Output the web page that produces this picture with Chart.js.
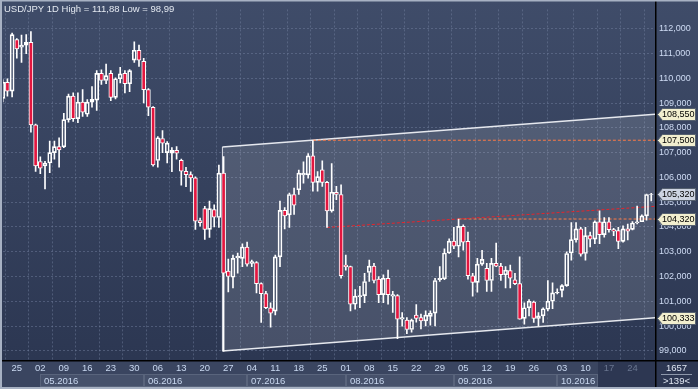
<!DOCTYPE html>
<html>
<head>
<meta charset="utf-8">
<title>USD/JPY 1D</title>
<script src="https://cdn.jsdelivr.net/npm/chart.js@4.4.1/dist/chart.umd.min.js"></script>
<style>
  html, body { margin: 0; padding: 0; background: #3a4560; }
  #wrap { width: 698px; height: 389px; }
</style>
</head>
<body>
<div id="wrap"><canvas id="fxChart" width="698" height="389"></canvas></div>
<script>
// daily candles, index 0 = 20.04.2016 ... 138 = 28.10.2016
const opens = [
  109.19, 109.84, 109.48, 111.56, 111.26, 111.34, 111.45, 108.12, 106.64, 106.46,
  106.58, 107.00, 107.24, 107.23, 108.33, 109.28, 108.37, 109.04, 108.55, 109.04,
  109.12, 110.20, 109.91, 110.20, 109.23, 109.98, 110.20, 109.78, 110.73, 111.13,
  110.68, 109.54, 108.83, 106.68, 107.57, 107.00, 106.98, 107.09, 106.69, 106.24,
  106.11, 105.98, 104.26, 104.74, 103.90, 104.70, 104.38, 106.17, 102.22, 101.97,
  102.75, 102.73, 103.19, 102.53, 102.56, 101.71, 101.31, 100.74, 100.60, 102.79,
  104.67, 104.49, 105.31, 105.50, 106.10, 106.10, 106.87, 105.80, 106.31, 105.80,
  104.65, 105.40, 105.31, 102.46, 102.40, 100.88, 101.18, 101.23, 102.16, 102.42,
  101.90, 101.27, 101.93, 101.21, 101.23, 100.28, 100.24, 99.86, 100.44, 100.34,
  100.21, 100.39, 100.52, 101.87, 101.91, 102.95, 103.43, 103.22, 104.02, 103.42,
  102.03, 101.76, 102.50, 102.33, 101.84, 102.53, 102.42, 102.07, 102.24, 101.87,
  101.71, 100.31, 100.74, 100.97, 100.31, 100.41, 100.68, 101.00, 101.34, 101.44,
  101.63, 102.95, 103.49, 103.92, 102.93, 103.65, 103.51, 104.21, 103.69, 104.21,
  103.89, 103.85, 103.42, 103.92, 103.90, 104.16, 104.21, 104.45, 105.31
];
const highs = [
  109.95, 109.98, 111.82, 111.60, 111.74, 111.76, 111.88, 108.15, 106.83, 106.65,
  107.47, 107.47, 107.60, 108.59, 109.36, 109.41, 109.41, 109.54, 109.14, 109.67,
  110.31, 110.34, 110.57, 110.31, 110.02, 110.44, 110.31, 110.35, 111.47, 111.34,
  110.81, 109.58, 108.86, 107.65, 107.89, 107.45, 107.20, 107.24, 106.74, 106.41,
  106.22, 106.02, 104.36, 104.83, 105.04, 104.89, 106.50, 106.84, 102.70, 102.86,
  102.95, 103.32, 103.39, 102.66, 102.60, 101.74, 101.40, 100.94, 102.86, 105.04,
  104.78, 105.37, 105.57, 106.30, 106.63, 106.96, 107.49, 106.23, 106.67, 105.84,
  106.56, 105.64, 105.70, 102.86, 102.42, 101.47, 101.60, 102.13, 102.66, 102.53,
  102.00, 102.07, 102.26, 101.40, 101.27, 100.54, 100.34, 100.28, 100.87, 100.48,
  100.61, 100.61, 101.93, 102.40, 103.12, 103.52, 103.98, 104.32, 104.09, 103.79,
  102.13, 102.73, 103.06, 102.53, 102.73, 103.35, 102.53, 102.40, 102.46, 102.13,
  102.79, 100.94, 101.07, 101.01, 100.54, 100.74, 101.84, 101.74, 101.50, 101.67,
  103.00, 104.18, 104.18, 103.98, 103.98, 103.79, 104.25, 104.65, 104.38, 104.38,
  103.94, 103.98, 104.05, 104.12, 104.22, 104.84, 104.49, 105.33, 105.36
];
const lows = [
  109.05, 109.28, 109.25, 110.81, 110.64, 110.99, 107.83, 106.24, 106.15, 105.53,
  106.19, 106.74, 106.41, 107.20, 108.23, 108.26, 108.21, 108.46, 108.46, 108.83,
  108.70, 109.75, 109.78, 109.10, 109.17, 109.81, 109.41, 109.46, 110.64, 110.48,
  109.01, 108.49, 106.45, 106.41, 107.00, 106.58, 106.23, 106.74, 105.69, 105.63,
  105.43, 103.90, 104.03, 103.50, 103.58, 104.00, 103.98, 98.99, 101.38, 101.54,
  102.13, 102.40, 102.42, 102.40, 101.34, 100.15, 100.70, 99.95, 100.45, 102.40,
  103.92, 103.98, 104.51, 105.31, 105.77, 105.97, 105.44, 105.44, 105.64, 103.98,
  104.60, 105.10, 101.93, 102.26, 100.61, 100.68, 100.74, 100.94, 101.80, 101.74,
  100.94, 100.94, 100.88, 100.55, 99.49, 100.00, 99.69, 99.75, 100.16, 99.88,
  100.01, 100.04, 100.01, 101.80, 101.87, 102.93, 103.12, 102.79, 103.06, 101.89,
  101.21, 101.37, 102.45, 101.40, 101.40, 102.40, 101.84, 101.54, 101.54, 101.67,
  100.28, 100.08, 100.41, 100.15, 100.01, 100.15, 100.61, 100.70, 101.30, 101.18,
  101.60, 102.66, 103.39, 102.82, 102.66, 103.19, 103.32, 103.32, 103.59, 103.79,
  103.65, 103.12, 103.39, 103.48, 103.88, 104.12, 104.21, 104.27, 105.05
];
const closes = [
  109.84, 109.48, 111.76, 111.19, 111.34, 111.45, 108.12, 106.46, 106.37, 106.58,
  107.00, 107.24, 107.11, 108.33, 109.28, 108.37, 109.04, 108.63, 109.04, 109.15,
  110.20, 109.91, 110.11, 109.23, 109.98, 110.18, 109.78, 110.31, 111.13, 110.73,
  109.54, 108.83, 106.50, 107.60, 107.38, 107.38, 107.09, 106.98, 106.25, 106.11,
  105.98, 104.23, 104.17, 103.90, 104.74, 104.39, 106.17, 102.13, 102.00, 102.73,
  102.82, 103.19, 102.50, 102.60, 101.71, 101.31, 100.74, 100.52, 102.79, 104.67,
  104.45, 105.31, 104.88, 106.17, 106.17, 106.87, 105.80, 106.03, 105.80, 104.65,
  105.40, 105.31, 102.03, 102.40, 100.88, 101.21, 101.23, 101.80, 102.42, 101.84,
  101.27, 101.93, 101.27, 101.27, 100.28, 100.34, 99.86, 100.24, 100.31, 100.21,
  100.44, 100.52, 101.84, 101.93, 102.95, 103.43, 103.22, 104.02, 103.39, 102.03,
  101.76, 102.50, 102.69, 101.84, 102.53, 102.42, 102.07, 102.26, 101.93, 101.71,
  100.28, 100.74, 101.00, 100.31, 100.41, 100.70, 101.00, 101.34, 101.36, 101.63,
  102.93, 103.49, 103.92, 102.90, 103.65, 103.51, 104.21, 103.69, 104.21, 103.89,
  103.83, 103.42, 103.92, 103.83, 104.16, 104.21, 104.45, 105.31, 105.32
];

// x axis: monday labels and month strip
const xTickIdx = [3, 8, 13, 18, 23, 28, 33, 38, 43, 48, 53, 58, 63, 68, 73, 78, 83, 88, 93, 98, 103, 108, 113, 119, 124, 129, 134];
const xTickText = ['25', '02', '09', '16', '23', '30', '06', '13', '20', '27', '04', '11', '18', '25', '01', '08', '15', '22', '29', '05', '12', '19', '26', '03', '10', '17', '24'];
const monthStart = [8, 30, 52, 73, 96, 118];
const monthEnd = [30, 52, 73, 96, 118, 126.7];
const monthText = ['05.2016', '06.2016', '07.2016', '08.2016', '09.2016', '10.2016'];

// y axis
const yTickVals = [99, 100, 101, 102, 103, 104, 105, 106, 107, 108, 109, 110, 111, 112];

// drawn objects: channel, levels, trend line
const channelX = [46.75, 138.8];
const channelTop = [107.23, 108.55];
const channelBottom = [98.99, 100.333];
const levelFrom = [66, 97];
const levelVals = [107.5, 104.32];
const trendX = [69, 138.8];
const trendY = [103.98, 104.83];

// price tags on the right axis
const tagVals = [108.55, 107.5, 105.32, 104.32, 100.333];
const tagCurrent = [false, false, true, false, false];

const xMin = 0.06, xMax = 138.8;
const fontFamily = "'Liberation Sans', Arial, sans-serif";
const red = '#e3163f';
const gridColor = 'rgba(120, 134, 165, 0.45)';

const bodies = opens.map((o, i) => ({ x: i, y: [o, closes[i]] }));
const upperWicks = opens.map((o, i) => ({ x: i, y: [Math.max(o, closes[i]), highs[i]] }));
const lowerWicks = opens.map((o, i) => ({ x: i, y: [lows[i], Math.min(o, closes[i])] }));
const bodyFill = opens.map((o, i) => (closes[i] < o ? red : 'rgba(0,0,0,0)'));

function fmt(v, d) {
  return v.toFixed(d).replace('.', ',');
}

const backdrop = {
  id: 'backdrop',
  beforeDraw(chart) {
    const { ctx, chartArea: a, scales: { x } } = chart;
    const W = chart.width, H = chart.height;
    ctx.save();
    ctx.fillStyle = '#3a4560';
    ctx.fillRect(0, 0, W, H);
    const g = ctx.createLinearGradient(0, 0, 0, a.bottom);
    g.addColorStop(0, '#3f4c69');
    g.addColorStop(1, '#2c3752');
    ctx.fillStyle = g;
    ctx.fillRect(0, 0, W, a.bottom);

    // month strip
    const top = a.bottom + 14, bot = H - 2;
    monthStart.forEach((m, k) => {
      const x0 = Math.round(x.getPixelForValue(m));
      const x1 = Math.round(x.getPixelForValue(monthEnd[k]));
      ctx.fillStyle = '#46516b';
      ctx.fillRect(x0, top, x1 - x0, bot - top);
      ctx.strokeStyle = '#59647c';
      ctx.lineWidth = 1;
      ctx.strokeRect(x0 + 0.5, top + 0.5, x1 - x0 - 1, bot - top - 1);
      ctx.fillStyle = '#c9d8f0';
      ctx.font = '9.5px ' + fontFamily;
      ctx.textBaseline = 'middle';
      ctx.textAlign = 'left';
      ctx.fillText(monthText[k], x0 + 4, (top + bot) / 2 + 1);
    });
    // dark end of the strip
    const xe = Math.round(x.getPixelForValue(monthEnd[monthEnd.length - 1]));
    ctx.fillStyle = '#2d3752';
    ctx.fillRect(xe, a.bottom, a.right - xe, H - a.bottom - 2);

    // bottom right box
    ctx.fillStyle = '#2d3752';
    ctx.fillRect(a.right, a.bottom, W - a.right, H - a.bottom);
    ctx.restore();
  },
  afterDraw(chart) {
    const { ctx, chartArea: a, scales: { y } } = chart;
    const W = chart.width, H = chart.height;
    ctx.save();
    // frame lines
    ctx.fillStyle = '#000000';
    ctx.fillRect(a.right, 0, 1.5, H);
    ctx.fillRect(0, a.bottom, W, 1.5);
    ctx.fillStyle = '#a7b1c3';
    ctx.fillRect(0, 0, W, 1.5);
    ctx.fillRect(0, 0, 2, H);
    ctx.fillRect(0, H - 2, W, 2);

    // price tags
    ctx.font = '9px ' + fontFamily;
    ctx.textBaseline = 'middle';
    ctx.textAlign = 'left';
    tagVals.forEach((v, k) => {
      const py = Math.round(y.getPixelForValue(v)) + 0.5;
      const xl = a.right + 2.5, xr = W - 2.5;
      ctx.beginPath();
      ctx.moveTo(xl - 0, py);
      ctx.lineTo(xl + 5, py - 6);
      ctx.lineTo(xr, py - 6);
      ctx.lineTo(xr, py + 6);
      ctx.lineTo(xl + 5, py + 6);
      ctx.closePath();
      ctx.fillStyle = tagCurrent[k] ? '#cdd4e2' : '#f2efcf';
      ctx.fill();
      ctx.strokeStyle = '#55606f';
      ctx.lineWidth = 1;
      ctx.stroke();
      ctx.fillStyle = '#000000';
      ctx.fillText(fmt(v, 3), a.right + 7, py + 0.5);
    });

    // bar counter
    ctx.textAlign = 'center';
    ctx.fillStyle = '#dfe6f2';
    ctx.font = '9.5px ' + fontFamily;
    const cx = (a.right + W) / 2;
    ctx.fillText('1657', cx, a.bottom + 8);
    ctx.fillStyle = '#8e98ab';
    ctx.fillRect(a.right + 6, a.bottom + 14, W - a.right - 12, 1);
    ctx.fillStyle = '#dfe6f2';
    ctx.fillText('>139<', cx, a.bottom + 21);

    // title
    ctx.textAlign = 'left';
    ctx.textBaseline = 'alphabetic';
    ctx.font = '9.5px ' + fontFamily;
    ctx.fillStyle = '#e3e8f0';
    ctx.fillText('USD/JPY 1D High = 111,88 Low = 98,99', 4, 12);
    ctx.restore();
  }
};

new Chart(document.getElementById('fxChart'), {
  data: {
    datasets: [
      {
        type: 'bar', label: 'body', data: bodies, grouped: false,
        backgroundColor: bodyFill, borderColor: '#ffffff', borderWidth: 1,
        borderSkipped: false, barThickness: 4, order: 1, clip: 0
      },
      {
        type: 'bar', label: 'wick up', data: upperWicks, grouped: false,
        backgroundColor: '#ffffff', borderWidth: 0, barThickness: 1, order: 2, clip: 0
      },
      {
        type: 'bar', label: 'wick down', data: lowerWicks, grouped: false,
        backgroundColor: '#ffffff', borderWidth: 0, barThickness: 1, order: 2, clip: 0
      },
      {
        type: 'line', label: 'trend', order: 3, pointRadius: 0,
        data: trendX.map((v, k) => ({ x: v, y: trendY[k] })),
        borderColor: '#e8242a', borderWidth: 1, borderDash: [3, 2]
      },
      {
        type: 'line', label: 'level 1', order: 3, pointRadius: 0,
        data: [{ x: levelFrom[0], y: levelVals[0] }, { x: xMax, y: levelVals[0] }],
        borderColor: '#ff7a45', borderWidth: 1, borderDash: [3, 2]
      },
      {
        type: 'line', label: 'level 2', order: 3, pointRadius: 0,
        data: [{ x: levelFrom[1], y: levelVals[1] }, { x: xMax, y: levelVals[1] }],
        borderColor: '#ff7a45', borderWidth: 1, borderDash: [3, 2]
      },
      {
        type: 'line', label: 'channel top', order: 5, pointRadius: 0,
        data: channelX.map((v, k) => ({ x: v, y: channelTop[k] })),
        borderColor: 'rgba(238, 240, 245, 0.95)', borderWidth: 1.5,
        fill: '+1', backgroundColor: 'rgba(255, 255, 255, 0.13)'
      },
      {
        type: 'line', label: 'channel bottom', order: 5, pointRadius: 0,
        data: channelX.map((v, k) => ({ x: v, y: channelBottom[k] })),
        borderColor: 'rgba(238, 240, 245, 0.95)', borderWidth: 1.5
      },
      {
        type: 'line', label: 'channel edge', order: 4, pointRadius: 0,
        data: [{ x: channelX[0], y: channelBottom[0] }, { x: channelX[0], y: channelTop[0] }],
        borderColor: 'rgba(238, 240, 245, 0.9)', borderWidth: 1
      }
    ]
  },
  options: {
    responsive: false,
    devicePixelRatio: 1,
    animation: false,
    layout: { padding: { left: 3, top: 3, right: 0, bottom: 0 } },
    plugins: { legend: { display: false }, tooltip: { enabled: false } },
    scales: {
      x: {
        type: 'linear', position: 'bottom', min: xMin, max: xMax, offset: false,
        afterBuildTicks: (s) => { s.ticks = xTickIdx.map((v) => ({ value: v })); },
        afterFit: (s) => { s.height = 29; },
        grid: { color: gridColor, drawTicks: false },
        border: { display: false, dash: [2, 2] },
        ticks: {
          autoSkip: false, maxRotation: 0, padding: 3,
          font: { family: fontFamily, size: 9.5 },
          color: (c) => (c.tick && c.tick.value > monthEnd[monthEnd.length - 1] ? '#69758f' : '#c9d8f0'),
          callback: (v, i) => xTickText[i]
        }
      },
      y: {
        type: 'linear', position: 'right', min: 98.63, max: 112.78,
        afterBuildTicks: (s) => { s.ticks = yTickVals.map((v) => ({ value: v })); },
        afterFit: (s) => { s.width = 43; },
        grid: { color: gridColor, drawTicks: false },
        border: { display: false, dash: [2, 2] },
        ticks: {
          padding: 4,
          font: { family: fontFamily, size: 9 },
          color: '#cfdcf4',
          callback: (v) => fmt(v, 3)
        }
      }
    }
  },
  plugins: [backdrop]
});
</script>
</body>
</html>
